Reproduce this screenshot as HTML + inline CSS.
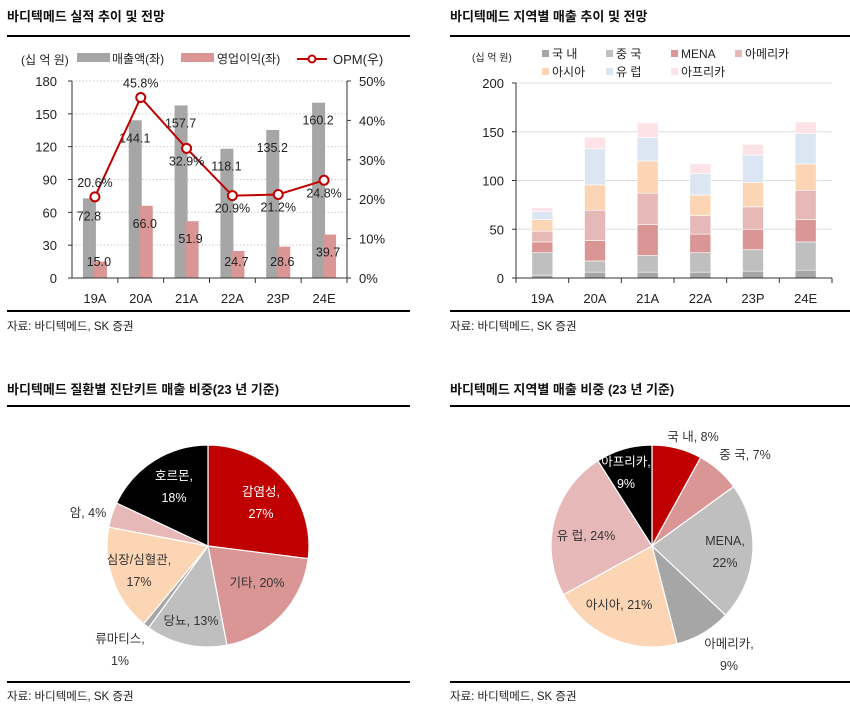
<!DOCTYPE html>
<html><head><meta charset="utf-8">
<style>
body{margin:0;background:#fff;font-family:"Liberation Sans","Noto Sans CJK KR",sans-serif;}
svg text{font-family:"Liberation Sans","Noto Sans CJK KR",sans-serif;}
</style></head>
<body>
<svg id="root" width="850" height="708" xmlns="http://www.w3.org/2000/svg">
<g font-weight="bold" font-size="13" fill="#111">
<text x="7" y="21">바디텍메드 실적 추이 및 전망</text>
<text x="450" y="21">바디텍메드 지역별 매출 추이 및 전망</text>
<text x="7" y="394">바디텍메드 질환별 진단키트 매출 비중(23 년 기준)</text>
<text x="450" y="394">바디텍메드 지역별 매출 비중 (23 년 기준)</text>
</g>
<g fill="#000">
<rect x="7" y="35" width="403" height="2"/><rect x="450" y="35" width="400" height="2"/>
<rect x="7" y="310" width="403" height="2"/><rect x="450" y="310" width="400" height="2"/>
<rect x="7" y="405" width="403" height="2"/><rect x="450" y="405" width="400" height="2"/>
<rect x="7" y="681" width="403" height="2"/><rect x="450" y="681" width="400" height="2"/>
</g>
<g font-size="11.5" fill="#222">
<text x="7" y="330">자료: 바디텍메드, SK 증권</text>
<text x="450" y="330">자료: 바디텍메드, SK 증권</text>
<text x="7" y="700">자료: 바디텍메드, SK 증권</text>
<text x="450" y="700">자료: 바디텍메드, SK 증권</text>
</g>
<g id="c1"></g>
<g id="c2"></g>
<g id="c3"></g>
<g id="c4"></g>
</svg>
<script>
const NS="http://www.w3.org/2000/svg";
function mk(p,t,a,txt){const e=document.createElementNS(NS,t);for(const k in a)e.setAttribute(k,a[k]);if(txt!==undefined)e.textContent=txt;p.appendChild(e);return e;}

// ---- Chart 1 data
const cats1=["19A","20A","21A","22A","23P","24E"];
const sales=[72.8,144.1,157.7,118.1,135.2,160.2];
const opInc=[15.0,66.0,51.9,24.7,28.6,39.7];
const opm=[20.6,45.8,32.9,20.9,21.2,24.8];
const leftTicks=[0,30,60,90,120,150,180];
const rightTicks=[0,10,20,30,40,50];
const opmLabelAbove=[true,true,false,false,false,false];

// ---- Chart 2 data
const cats2=["19A","20A","21A","22A","23P","24E"];
const regions=["국 내","중 국","MENA","아메리카","아시아","유 럽","아프리카"];
const dom=[3,6,6,6,7,8];
const chn=[23,11.5,17,20,22,29];
const mena=[11,21,32,19,21,23];
const amer=[11,31,32,19,23,30];
const asia=[12,26,33,21,25,27];
const eur=[8,37,24,22,28,31];
const afr=[4,12,15,10,11,12];
const ticks2=[0,50,100,150,200];

// ---- Pie data
const diseaseLabels=["감염성","기타","당뇨","류마티스","심장/심혈관","암","호르몬"];
const diseaseVals=[27,20,13,1,17,4,18];
const regionLabels=["국 내","중 국","MENA","아메리카","아시아","유 럽","아프리카"];
const regionVals=[8,7,22,9,21,24,9];

// ===== Chart 1
(function(){
const g=document.getElementById('c1');
const x0=72,x1=347,yb=278,yt=81;
const yL=v=>yb-(v/180)*(yb-yt), yR=v=>yb-(v/50)*(yb-yt);
const cw=(x1-x0)/cats1.length, cx=i=>x0+cw*(i+0.5);
leftTicks.forEach(t=>{
 if(t>0){const l=mk(g,'line',{x1:x0,x2:x1,y1:yL(t),y2:yL(t),stroke:'#ccc','stroke-dasharray':'1.5,2'});}
 const tx=mk(g,'text',{x:x0-15,y:yL(t)+5,'text-anchor':'end','font-size':13,fill:'#222'},String(t));
 
 mk(g,'line',{x1:x0-4,x2:x0,y1:yL(t),y2:yL(t),stroke:'#333'});
});
rightTicks.forEach(t=>{
 const tx=mk(g,'text',{x:x1+12,y:yR(t)+5,'font-size':13,fill:'#222'},t+'%');
 
 mk(g,'line',{x1:x1,x2:x1+4,y1:yR(t),y2:yR(t),stroke:'#333'});
});
mk(g,'line',{x1:x0,x2:x0,y1:yt,y2:yb,stroke:'#333'});
mk(g,'line',{x1:x1,x2:x1,y1:yt,y2:yb,stroke:'#333'});
cats1.forEach((c,i)=>{
 const b=mk(g,'rect',{x:cx(i)-12,y:yL(sales[i]),width:13,height:yb-yL(sales[i]),fill:'#a6a6a6'});
 
 const p=mk(g,'rect',{x:cx(i)-1,y:yL(opInc[i]),width:13,height:yb-yL(opInc[i]),fill:'#d99694'});
 
 const sl=mk(g,'text',{x:cx(i)-6,y:yL(sales[i])+22,'text-anchor':'middle','font-size':12.5,fill:'#222'},sales[i].toFixed(1));
 
 const ol=mk(g,'text',{x:cx(i)+4,y:Math.min(yL(opInc[i])+22,266),'text-anchor':'middle','font-size':12.5,fill:'#222'},opInc[i].toFixed(1));
 
 const xl=mk(g,'text',{x:cx(i),y:303,'text-anchor':'middle','font-size':13,fill:'#222'},c);
 
 if(i>0)mk(g,'line',{x1:x0+cw*i,x2:x0+cw*i,y1:yb,y2:yb+5,stroke:'#333'});
});
mk(g,'line',{x1:x0,x2:x1,y1:yb,y2:yb,stroke:'#333'});
mk(g,'line',{x1:x1,x2:x1,y1:yb,y2:yb+5,stroke:'#333'});
const pts=opm.map((v,i)=>[cx(i),yR(v)]);
const pl=mk(g,'polyline',{points:pts.map(p=>p.join(',')).join(' '),fill:'none',stroke:'#c00000','stroke-width':2});

pts.forEach((p,i)=>{
 const c=mk(g,'circle',{cx:p[0],cy:p[1],r:4.5,fill:'#fff',stroke:'#c00000','stroke-width':2});
 
 const t=mk(g,'text',{x:p[0],y:opmLabelAbove[i]?p[1]-10:p[1]+17,'text-anchor':'middle','font-size':12.5,fill:'#222'},opm[i].toFixed(1)+'%');
 
});
// legend
const lg=mk(g,'g',{});

mk(lg,'text',{x:21,y:64,'font-size':12,fill:'#222'},'(십 억 원)');
mk(lg,'rect',{x:77,y:53,width:33,height:9,fill:'#a6a6a6'});
mk(lg,'text',{x:112,y:63,'font-size':12,fill:'#222'},'매출액(좌)');
mk(lg,'rect',{x:181,y:53,width:33,height:9,fill:'#d99694'});
mk(lg,'text',{x:217,y:63,'font-size':12,fill:'#222'},'영업이익(좌)');
mk(lg,'line',{x1:297,x2:327,y1:59,y2:59,stroke:'#c00000','stroke-width':2});
mk(lg,'circle',{cx:312,cy:59,r:3.5,fill:'#fff',stroke:'#c00000','stroke-width':2});
mk(lg,'text',{x:333,y:64,'font-size':13,fill:'#222'},'OPM(우)');
})();

// ===== Chart 2
(function(){
const g=document.getElementById('c2');
const x0=516,x1=832,yb=278,yt=83;
const y=v=>yb-(v/200)*(yb-yt);
const cw=(x1-x0)/cats2.length,cx=i=>x0+cw*(i+0.5);
const series=[dom,chn,mena,amer,asia,eur,afr];
const colors=['#a6a6a6','#bfbfbf','#d99694','#e6b9b8','#fcd5b4','#dce6f2','#fde2e8'];
ticks2.forEach(t=>{
 if(t>0){const l=mk(g,'line',{x1:x0,x2:x1,y1:y(t),y2:y(t),stroke:'#ddd','stroke-width':1});}
 const tx=mk(g,'text',{x:x0-12,y:y(t)+5,'text-anchor':'end','font-size':13,fill:'#222'},String(t));
 
 mk(g,'line',{x1:x0-4,x2:x0,y1:y(t),y2:y(t),stroke:'#333'});
});
mk(g,'line',{x1:x0,x2:x0,y1:yt,y2:yb,stroke:'#333'});
cats2.forEach((c,i)=>{
 let acc=0;
 series.forEach((s,k)=>{
  const r=mk(g,'rect',{x:cx(i)-10.5,y:y(acc+s[i]),width:21,height:y(acc)-y(acc+s[i]),fill:colors[k],stroke:'#fff','stroke-width':0.6});
  
  acc+=s[i];
 });
 const xl=mk(g,'text',{x:cx(i),y:303,'text-anchor':'middle','font-size':13,fill:'#222'},c);
 
 mk(g,'line',{x1:x0+cw*(i+1),x2:x0+cw*(i+1),y1:yb,y2:yb+5,stroke:'#333'});
});
mk(g,'line',{x1:x0,x2:x1,y1:yb,y2:yb,stroke:'#333'});
mk(g,'line',{x1:x0,x2:x0,y1:yb,y2:yb+5,stroke:'#333'});
const lg=mk(g,'g',{});

mk(lg,'text',{x:472,y:61,'font-size':10,fill:'#222'},'(십 억 원)');
const lx=[542,606,671,735,542,606,671], ly=[54,54,54,54,72,72,72];
regions.forEach((r,k)=>{
 mk(lg,'rect',{x:lx[k],y:ly[k]-4,width:7,height:7,fill:colors[k]});
 mk(lg,'text',{x:lx[k]+10,y:ly[k]+4,'font-size':12,fill:'#222'},r);
});
})();

// ===== Pies
function pie(gid,cx,cy,R,vals,labels,colors,lpos,lcol){
 const g=document.getElementById(gid);
 const tot=vals.reduce((a,b)=>a+b,0);
 let a=-Math.PI/2;
 vals.forEach((v,i)=>{
  const a2=a+v/tot*2*Math.PI;
  const p1=[cx+R*Math.cos(a),cy+R*Math.sin(a)],p2=[cx+R*Math.cos(a2),cy+R*Math.sin(a2)];
  const large=(a2-a)>Math.PI?1:0;
  const s=mk(g,'path',{d:`M${cx},${cy} L${p1[0]},${p1[1]} A${R},${R} 0 ${large} 1 ${p2[0]},${p2[1]} Z`,fill:colors[i],stroke:'#fff','stroke-width':1.2});
  
  a=a2;
 });
 labels.forEach((l,i)=>{
  const lp=lpos[i];
  const lines=lp[2]?[l+',',vals[i]+'%']:[l+', '+vals[i]+'%'];
  lines.forEach((tx,j)=>{
   const t=mk(g,'text',{x:lp[0],y:lp[1]+j*22,'text-anchor':'middle','font-size':12.5,fill:lcol[i]},tx);
   
  });
 });
}
pie('c3',208,546,101,diseaseVals,diseaseLabels,
 ['#c00000','#d99694','#bfbfbf','#a6a6a6','#fcd5b4','#e6b9b8','#000'],
 [[261,496,1],[257,587,0],[191,625,0],[120,643,1],[139,564,1],[88,517,0],[174,480,1]],
 ['#fff','#333','#333','#333','#333','#333','#fff']);
pie('c4',652,546,101,regionVals,regionLabels,
 ['#c00000','#d99694','#bfbfbf','#a6a6a6','#fcd5b4','#e6b9b8','#000'],
 [[693,441,0],[745,459,0],[725,545,1],[729,648,1],[619,609,0],[586,540,0],[626,466,1]],
 ['#333','#333','#333','#333','#333','#333','#fff']);
</script>
</body></html>
